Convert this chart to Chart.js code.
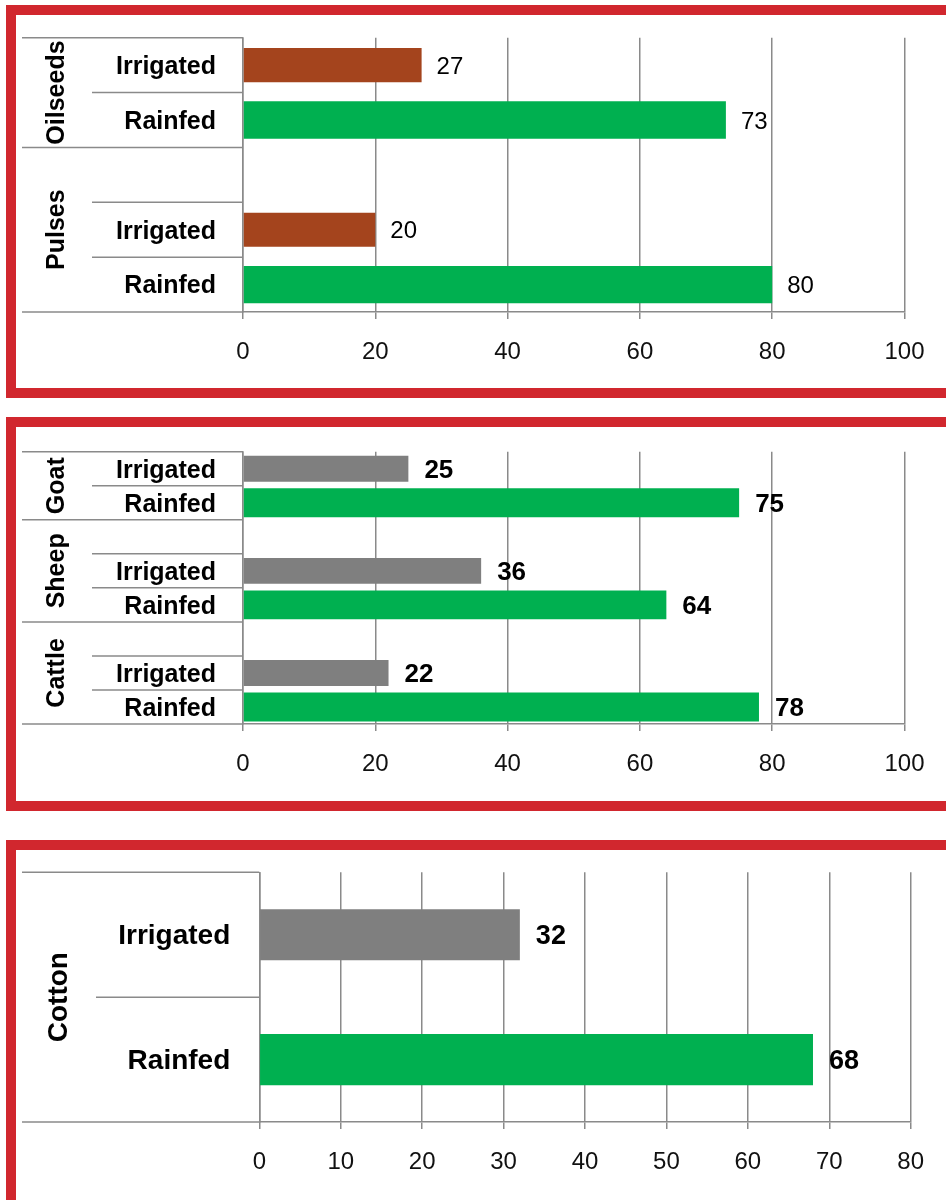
<!DOCTYPE html>
<html>
<head>
<meta charset="utf-8">
<script src="https://cdn.jsdelivr.net/npm/chart.js@4.4.1/dist/chart.umd.min.js"></script>
<style>
  html, body { margin: 0; padding: 0; background: #fff; overflow: hidden; }
  body { width: 946px; height: 1200px; position: relative; }
  .frame { position: absolute; left: 6px; width: 990px; border: 10px solid #d1272e; box-sizing: border-box; background: #fff; }
  canvas { position: absolute; left: 0; }
</style>
</head>
<body>
<div class="frame" style="top:5px;height:393px"></div>
<div class="frame" style="top:417px;height:394px"></div>
<div class="frame" style="top:840px;height:380px"></div>
<canvas id="cropChart" width="946" height="398" style="top:0"></canvas>
<canvas id="livestockChart" width="946" height="401" style="top:410px"></canvas>
<canvas id="cottonChart" width="946" height="370" style="top:830px"></canvas>
<script>
// share of area / holdings, rainfed vs irrigated (%)
const rowLabels = ['Irrigated', 'Rainfed'];

const cropGroups = ['Oilseeds', 'Pulses'];
const cropIrrigated = [27, 20];
const cropRainfed = [73, 80];

const livestockGroups = ['Goat', 'Sheep', 'Cattle'];
const livestockIrrigated = [25, 36, 22];
const livestockRainfed = [75, 64, 78];

const cottonGroups = ['Cotton'];
const cottonIrrigated = [32];
const cottonRainfed = [68];

const percentTicks = [0, 20, 40, 60, 80, 100];
const cottonTicks = [0, 10, 20, 30, 40, 50, 60, 70, 80];

const FONT = '"Liberation Sans", Arial, sans-serif';
const LINE = '#8a8a8a';
const GREEN = '#00b050';

// one row per bar, a blank spacer row before every group but the first
function buildRows(groups, irrigated, rainfed) {
    const labels = [], irr = [], rain = [], spans = [];
    groups.forEach((name, gi) => {
        const start = labels.length;
        if (gi > 0) { labels.push(''); irr.push(null); rain.push(null); }
        labels.push(rowLabels[0]); irr.push(irrigated[gi]); rain.push(null);
        labels.push(rowLabels[1]); irr.push(null); rain.push(rainfed[gi]);
        spans.push({ name, start, end: labels.length });
    });
    return { labels, irr, rain, spans };
}

const valueLabels = {
    id: 'valueLabels',
    afterDatasetsDraw(chart, args, opts) {
        const ctx = chart.ctx;
        ctx.save();
        ctx.font = opts.font;
        ctx.fillStyle = '#000';
        ctx.textAlign = 'left';
        ctx.textBaseline = 'middle';
        chart.data.datasets.forEach((ds, di) => {
            chart.getDatasetMeta(di).data.forEach((bar, i) => {
                if (ds.data[i] == null) return;
                ctx.fillText(ds.data[i], bar.x + opts.offset, bar.y + 2);
            });
        });
        ctx.restore();
    }
};

// multi-level category axis: separator lines and rotated group names
const groupAxis = {
    id: 'groupAxis',
    afterDraw(chart, args, opts) {
        const { ctx, chartArea, scales: { y } } = chart;
        const n = y.getLabels().length;
        const edge = k => y.getPixelForValue(k - 0.5);
        const outer = new Set([0, n, ...opts.spans.map(s => s.start)]);
        ctx.save();
        ctx.strokeStyle = LINE;
        ctx.lineWidth = 1.5;
        for (let k = 0; k <= n; k++) {
            const py = edge(k);
            ctx.beginPath();
            ctx.moveTo(outer.has(k) ? opts.outerX : opts.innerX, py);
            ctx.lineTo(chartArea.left, py);
            ctx.stroke();
        }
        ctx.fillStyle = '#000';
        ctx.font = opts.font;
        ctx.textAlign = 'center';
        ctx.textBaseline = 'alphabetic';
        opts.spans.forEach(s => {
            const cy = (edge(s.start) + edge(s.end)) / 2;
            ctx.save();
            ctx.translate(opts.nameX, cy);
            ctx.rotate(-Math.PI / 2);
            ctx.fillText(s.name, 0, 0);
            ctx.restore();
        });
        ctx.restore();
    }
};

function drawPanel(id, rows, ticks, p) {
    const canvas = document.getElementById(id);
    new Chart(canvas.getContext('2d'), {
        type: 'bar',
        data: {
            labels: rows.labels,
            datasets: [
                { label: 'Irrigated', data: rows.irr, backgroundColor: p.irrColor, barPercentage: p.irrBar, categoryPercentage: 1 },
                { label: 'Rainfed', data: rows.rain, backgroundColor: GREEN, barPercentage: p.rainBar, categoryPercentage: 1 }
            ]
        },
        options: {
            indexAxis: 'y',
            responsive: false,
            animation: false,
            layout: { padding: { left: 0, top: p.top, right: canvas.width - p.right, bottom: 0 } },
            plugins: {
                legend: { display: false },
                tooltip: { enabled: false },
                valueLabels: { font: p.valueFont, offset: p.valueOffset },
                groupAxis: { spans: rows.spans, font: p.catFont, nameX: p.nameX, outerX: 22, innerX: p.innerX }
            },
            scales: {
                x: {
                    min: ticks[0],
                    max: ticks[ticks.length - 1],
                    afterBuildTicks: s => { s.ticks = ticks.map(v => ({ value: v })); },
                    afterFit: s => { s.height = canvas.height - p.bottom; },
                    grid: { color: LINE, lineWidth: 1.5, tickLength: 7 },
                    border: { color: LINE, width: 1.5 },
                    ticks: { color: '#111', padding: 19, font: { family: FONT, size: 24 } }
                },
                y: {
                    stacked: true,
                    afterFit: s => { s.width = p.left; },
                    grid: { display: false, drawTicks: true, tickLength: p.labelGap },
                    border: { color: LINE, width: 1.5 },
                    ticks: { color: '#000', padding: 0, labelOffset: 2, autoSkip: false, font: { family: FONT, size: p.catSize, weight: 'bold' } }
                }
            }
        },
        plugins: [valueLabels, groupAxis]
    });
}

drawPanel('cropChart', buildRows(cropGroups, cropIrrigated, cropRainfed), percentTicks, {
    top: 37.7, bottom: 312, left: 243, right: 904.5,
    irrColor: '#a4441d', irrBar: 0.62, rainBar: 0.68,
    valueFont: '24px ' + FONT, valueOffset: 15,
    catSize: 25, catFont: 'bold 25px ' + FONT, labelGap: 27, nameX: 64, innerX: 92
});

drawPanel('livestockChart', buildRows(livestockGroups, livestockIrrigated, livestockRainfed), percentTicks, {
    top: 41.7, bottom: 314, left: 243, right: 904.5,
    irrColor: '#7f7f7f', irrBar: 0.76, rainBar: 0.85,
    valueFont: 'bold 26px ' + FONT, valueOffset: 16,
    catSize: 25, catFont: 'bold 25px ' + FONT, labelGap: 27, nameX: 64, innerX: 92
});

drawPanel('cottonChart', buildRows(cottonGroups, cottonIrrigated, cottonRainfed), cottonTicks, {
    top: 42.3, bottom: 292, left: 259.3, right: 910.7,
    irrColor: '#7f7f7f', irrBar: 0.41, rainBar: 0.41,
    valueFont: 'bold 27px ' + FONT, valueOffset: 16,
    catSize: 28, catFont: 'bold 28px ' + FONT, labelGap: 29, nameX: 66.5, innerX: 96
});
</script>
</body>
</html>
